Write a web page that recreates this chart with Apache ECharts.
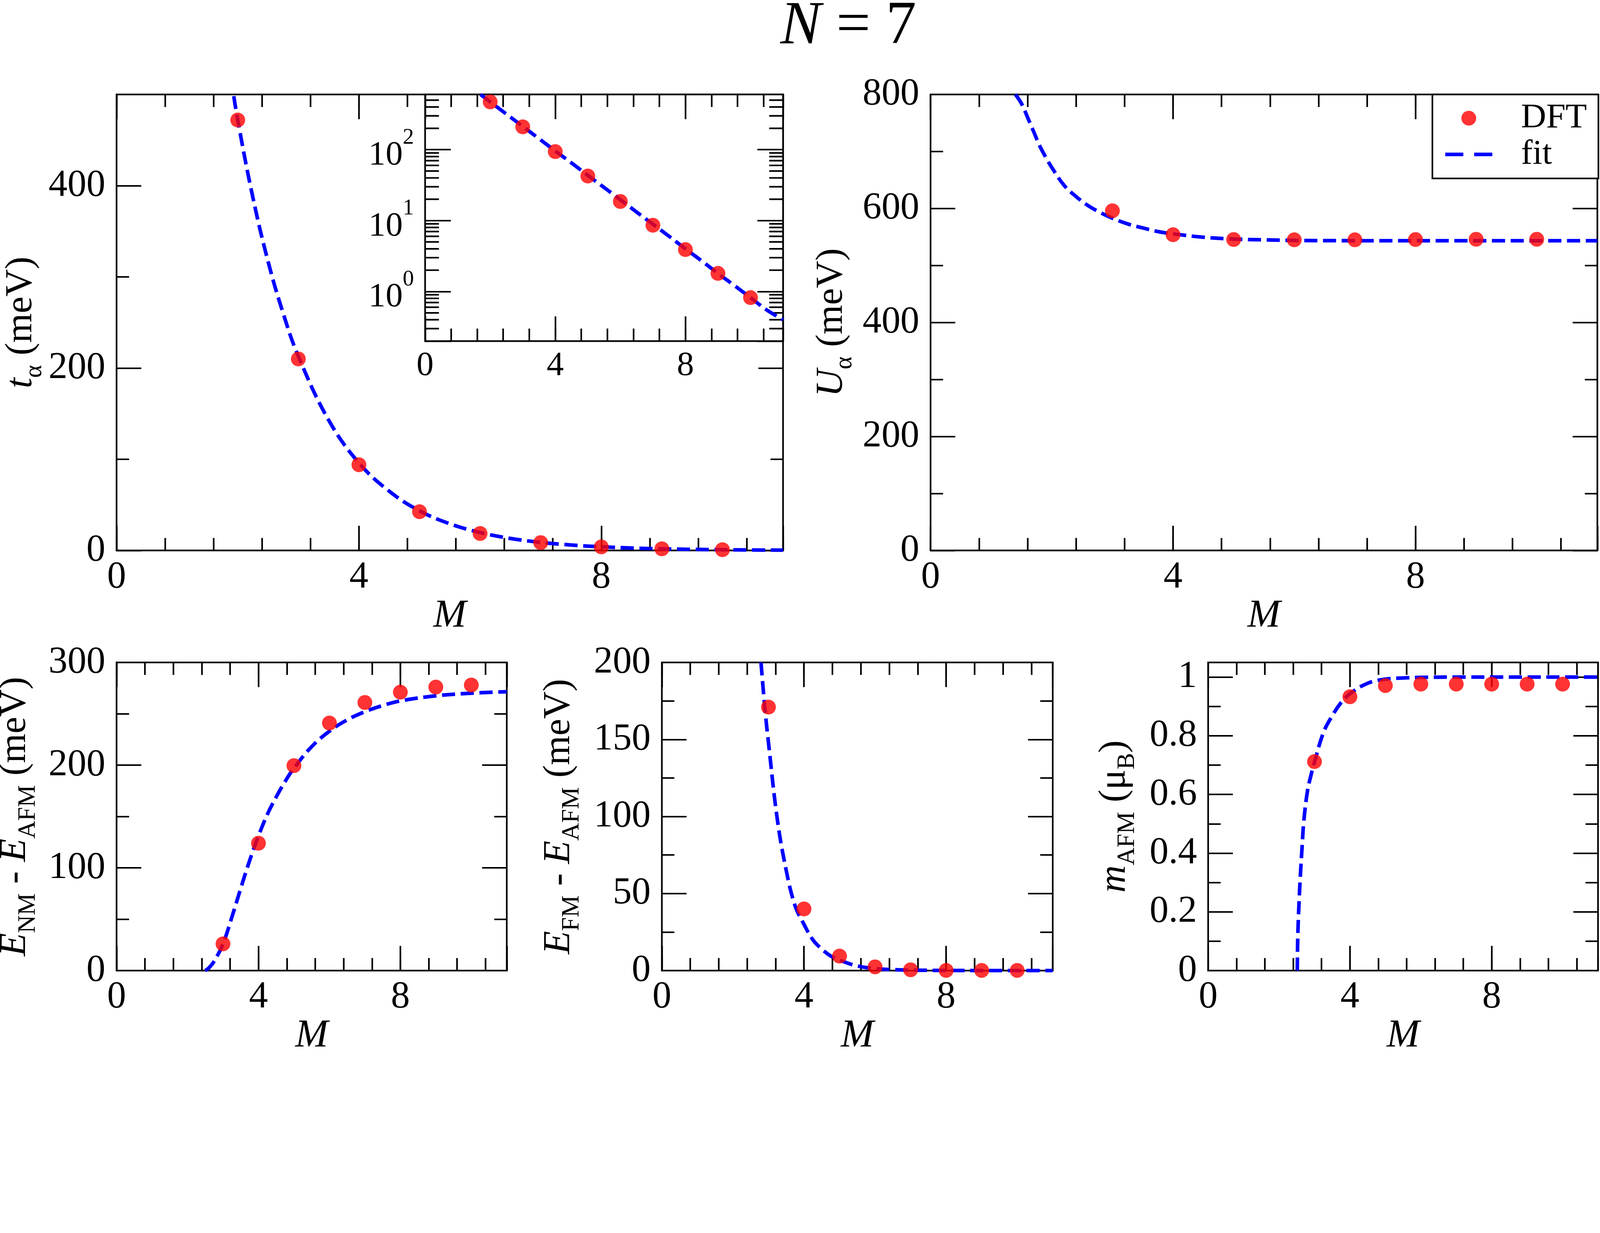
<!DOCTYPE html>
<html>
<head>
<meta charset="utf-8">
<script src="https://cdn.jsdelivr.net/npm/echarts@6.0.0/dist/echarts.min.js"></script>
<style>html,body{margin:0;padding:0;background:#fff;overflow:hidden}#c{width:100vw;height:100vh}</style>
</head>
<body>
<div id="c"></div>
<script>
// ---------- data ----------
const M_DFT = [2, 3, 4, 5, 6, 7, 8, 9, 10];
const t_DFT = [472, 210, 94, 42.5, 18.6, 8.6, 3.9, 1.8, 0.82];
const t_fitM = [1.7, 1.8, 1.9, 2, 2.25, 2.5, 2.75, 3, 3.5, 4, 4.5, 5, 5.5, 6, 6.5, 7, 7.5, 8, 8.5, 9, 9.5, 10, 10.5, 11];
const t_fitV = [600, 555, 513, 472, 387, 317, 260, 213, 143, 96, 65, 43.5, 29.3, 19.7, 13.2, 8.9, 6.0, 4.0, 2.7, 1.8, 1.22, 0.82, 0.55, 0.4];

const M_DFT2 = [3, 4, 5, 6, 7, 8, 9, 10];
const U_DFT = [596, 554, 545.5, 545, 545, 545.5, 546, 546];
const U_fitM = [1.4, 1.5, 1.6, 1.7, 1.8, 1.9, 2.0, 2.2, 2.4, 2.6, 2.8, 3.0, 3.25, 3.5, 3.75, 4.0, 4.5, 5.0, 5.5, 6, 7, 8, 9, 10, 11];
const U_fitV = [800, 784, 760, 735, 710, 690, 672, 641, 621, 605, 593, 583, 573, 566, 559.5, 555.5, 549.6, 546.4, 545, 544, 543.5, 543.5, 543.5, 543.5, 543.5];

const ENM_DFT = [26, 124, 199.5, 241, 261, 271, 276, 278];
const ENM_fitM = [2.5, 2.6, 2.75, 3, 3.25, 3.5, 3.75, 4, 4.25, 4.5, 4.75, 5, 5.5, 6, 6.5, 7, 7.5, 8, 9, 10, 11];
const ENM_fitV = [0, 2.5, 9, 26, 52, 80, 107, 131, 152, 169, 184, 197, 218, 233, 244, 252, 258, 262.5, 267.5, 270, 271.5];

const EFM_DFT = [171, 40, 9.4, 2.4, 0.5, 0.1, 0.1, 0.1];
const EFM_fitM = [2.79, 2.9, 3, 3.25, 3.5, 3.75, 4, 4.25, 4.5, 4.75, 5, 5.5, 6, 6.5, 7, 8, 9, 10, 11];
const EFM_fitV = [200, 170, 148, 98, 65, 42, 30, 20, 14, 9.5, 6.8, 3, 1.3, 0.6, 0.3, 0.06, 0.01, 0, 0];

const m_DFT = [0.712, 0.933, 0.971, 0.976, 0.976, 0.976, 0.976, 0.976];
const m_fitM = [2.514, 2.53, 2.56, 2.6, 2.65, 2.7, 2.8, 2.9, 3.0, 3.25, 3.5, 3.75, 4.0, 4.5, 5, 5.5, 6, 7, 8, 9, 10, 11];
const m_fitV = [0, 0.12, 0.22, 0.32, 0.42, 0.51, 0.61, 0.665, 0.71, 0.81, 0.868, 0.913, 0.943, 0.979, 0.993, 0.997, 0.999, 1, 1, 1, 1, 1];

// minor tick values of the logarithmic inset axis
const logMinorTicks = [0.3, 0.4, 0.5, 0.6, 0.7, 0.8, 0.9, 2, 3, 4, 5, 6, 7, 8, 9, 20, 30, 40, 50, 60, 70, 80, 90, 200, 300, 400, 500];

// ---------- layout scale (design is in 4859 x 3157 px) ----------
const el = document.getElementById('c');
const W = el.clientWidth || window.innerWidth;
const s = W / 4859;
const S = (v) => v * s;

// ---------- styling ----------
const FONT = 'Liberation Serif';
const BLACK = '#000';
const tickStyle = { color: BLACK, width: S(5) };
const MAJ = S(75), MIN = S(38);

const zip = (a, b) => a.map((v, i) => [v, b[i]]);
const fmtMult = (step) => (v) => {
  const r = v / step;
  return Math.abs(r - Math.round(r)) < 1e-6 ? String(+(+v).toFixed(6)) : '';
};

const grids = [];
const xAxes = [];
const yAxes = [];

function rectS(r) {
  return { left: S(r.left), top: S(r.top), width: S(r.width), height: S(r.height) };
}

function addGrid(rect, opts) {
  grids.push(Object.assign({
    show: true, borderColor: BLACK, borderWidth: S(5),
    backgroundColor: opts.bg || 'transparent', z: opts.z || 0,
    containLabel: false, outerBoundsMode: 'none'
  }, rectS(rect)));
  return grids.length - 1;
}

// one dimension: major axis with labels + minor axis + mirrored pair on the opposite side
function addAxes(dim, gi, c, z) {
  const list = dim === 'x' ? xAxes : yAxes;
  const pos = dim === 'x' ? ['bottom', 'top'] : ['left', 'right'];
  const base = () => ({
    type: 'value', gridIndex: gi, min: c.min, max: c.max, z: z,
    splitLine: { show: false }, axisLine: { show: false, onZero: false },
    axisPointer: { show: false }
  });
  const mainIdx = list.length;
  const ls = S(c.labelSize || 115);
  const main = Object.assign(base(), {
    position: pos[0], interval: c.major,
    axisTick: { show: true, inside: true, length: MAJ, lineStyle: tickStyle },
    axisLabel: {
      show: true, formatter: fmtMult(c.major), fontFamily: FONT, fontSize: ls,
      lineHeight: ls, color: BLACK, margin: S(c.margin)
    }
  });
  if (c.name) {
    main.name = c.name;
    main.nameLocation = 'middle';
    main.nameGap = S(c.nameGap);
    main.nameTextStyle = c.nameStyle;
  }
  list.push(main);
  list.push(Object.assign(base(), {
    position: pos[0], interval: c.minor,
    axisTick: { show: true, inside: true, length: MIN, lineStyle: tickStyle },
    axisLabel: { show: false }
  }));
  list.push(Object.assign(base(), {
    position: pos[1], interval: c.major,
    axisTick: { show: true, inside: true, length: MAJ, lineStyle: tickStyle },
    axisLabel: { show: false }
  }));
  list.push(Object.assign(base(), {
    position: pos[1], interval: c.minor,
    axisTick: { show: true, inside: true, length: MIN, lineStyle: tickStyle },
    axisLabel: { show: false }
  }));
  return mainIdx;
}

const xNameStyle = { fontFamily: FONT, fontStyle: 'italic', fontSize: S(120), lineHeight: S(120), color: BLACK };
const yNameStyle = {
  fontFamily: FONT, fontSize: S(115), lineHeight: S(154), color: BLACK,
  rich: {
    i: { fontFamily: FONT, fontStyle: 'italic', fontSize: S(115), lineHeight: S(154), color: BLACK },
    s: { fontFamily: FONT, fontSize: S(75), lineHeight: S(60), verticalAlign: 'bottom', color: BLACK }
  }
};

const xCfg = () => ({ min: 0, max: 11, major: 4, minor: 0.8, margin: 24, name: 'M', nameGap: 77, nameStyle: xNameStyle });

const fitLine = { color: '#0000ff', width: S(11), type: [S(40), S(17)] };
const series = [];
function addPanel(rect, yc, dft, fit) {
  const gi = addGrid(rect, {});
  const xi = addAxes('x', gi, xCfg(), 0);
  const yi = addAxes('y', gi, Object.assign({ margin: 34, nameStyle: yNameStyle }, yc), 0);
  series.push({
    name: 'fit', type: 'line', xAxisIndex: xi, yAxisIndex: yi, data: fit,
    showSymbol: false, symbol: 'none', smooth: 0.4, z: 2,
    lineStyle: fitLine, itemStyle: { color: '#0000ff' }
  });
  series.push({
    name: 'DFT', type: 'scatter', xAxisIndex: xi, yAxisIndex: yi, data: dft,
    symbol: 'circle', symbolSize: S(45), itemStyle: { color: '#ff0000' }, z: 3
  });
}

// --- panel 1 (t_alpha) ---
addPanel({ left: 354, top: 287, width: 2024, height: 1385 },
  { min: 0, max: 500, major: 200, minor: 100, name: '{i|t}{s|α} (meV)', nameGap: 212 },
  zip(M_DFT, t_DFT), zip(t_fitM, t_fitV));

// --- inset (log scale) ---
const gInset = addGrid({ left: 1291, top: 287, width: 1087, height: 749 }, { bg: '#fff', z: 3 });
const xInset = addAxes('x', gInset, { min: 0, max: 11, major: 4, minor: 0.8, margin: 23, labelSize: 104 }, 4);
const logLabel = (v) => {
  const e = Math.log10(v);
  return Math.abs(e - Math.round(e)) < 1e-6 ? '{b|10}{p|' + Math.round(e) + '}' : '';
};
const yInsetBase = {
  type: 'log', logBase: 10, gridIndex: gInset, min: 0.2, max: 600, z: 4,
  splitLine: { show: false }, axisLine: { show: false, onZero: false }, minorTick: { show: false },
  axisTick: { show: true, inside: true, length: S(78), lineStyle: tickStyle }
};
const yInset = yAxes.length;
yAxes.push(Object.assign({}, yInsetBase, {
  position: 'left',
  axisLabel: {
    show: true, formatter: logLabel, margin: S(34), color: BLACK,
    rich: {
      b: { fontFamily: FONT, fontSize: S(104), lineHeight: S(140), verticalAlign: 'bottom', color: BLACK },
      p: { fontFamily: FONT, fontSize: S(68), lineHeight: S(140), verticalAlign: 'top', color: BLACK }
    }
  }
}));
yAxes.push(Object.assign({}, yInsetBase, { position: 'right', axisLabel: { show: false } }));
series.push({
  name: 'fit', type: 'line', xAxisIndex: xInset, yAxisIndex: yInset, data: zip(t_fitM, t_fitV),
  showSymbol: false, symbol: 'none', smooth: 0.4, z: 5, lineStyle: fitLine
});
series.push({
  name: 'DFT', type: 'scatter', xAxisIndex: xInset, yAxisIndex: yInset, data: zip(M_DFT, t_DFT),
  symbolSize: S(45), itemStyle: { color: '#ff0000' }, z: 6
});
series.push({
  name: 'logMinor', type: 'custom', xAxisIndex: xInset, yAxisIndex: yInset, z: 5, silent: true,
  data: logMinorTicks.map(v => [0, v]),
  renderItem: (params, api) => {
    const y = api.coord([0, api.value(1)])[1];
    const cs = params.coordSys;
    const st = { stroke: BLACK, lineWidth: S(5) };
    const L = S(42);
    return {
      type: 'group', children: [
        { type: 'line', shape: { x1: cs.x, y1: y, x2: cs.x + L, y2: y }, style: st },
        { type: 'line', shape: { x1: cs.x + cs.width - L, y1: y, x2: cs.x + cs.width, y2: y }, style: st }
      ]
    };
  }
});

// --- panel 2 (U_alpha) ---
addPanel({ left: 2826, top: 287, width: 2025, height: 1385 },
  { min: 0, max: 800, major: 200, minor: 100, name: '{i|U}{s|α} (meV)', nameGap: 223 },
  zip(M_DFT2, U_DFT), zip(U_fitM, U_fitV));

// --- panel 3 (E_NM - E_AFM) ---
addPanel({ left: 354, top: 2012, width: 1185, height: 936 },
  { min: 0, max: 300, major: 100, minor: 50, name: '{i|E}{s|NM} - {i|E}{s|AFM} (meV)', nameGap: 231 },
  zip(M_DFT2, ENM_DFT), zip(ENM_fitM, ENM_fitV));

// --- panel 4 (E_FM - E_AFM) ---
addPanel({ left: 2010, top: 2012, width: 1187, height: 936 },
  { min: 0, max: 200, major: 50, minor: 25, name: '{i|E}{s|FM} - {i|E}{s|AFM} (meV)', nameGap: 235 },
  zip(M_DFT2, EFM_DFT), zip(EFM_fitM, EFM_fitV));

// --- panel 5 (m_AFM) ---
addPanel({ left: 3669, top: 2012, width: 1184, height: 936 },
  { min: 0, max: 1.05, major: 0.2, minor: 0.1, name: '{i|m}{s|AFM} (μ{s|B})', nameGap: 207 },
  zip(M_DFT2, m_DFT), zip(m_fitM, m_fitV));

// legend icon for the dashed fit line: two dashes inside a 143 x 45 box
const dashIcon = 'path://M0,0h0.01v0.01h-0.01z M0,17h55v11h-55z M88,17h55v11h-55z M142.99,44.99h0.01v0.01h-0.01z';

const chart = echarts.init(el, null, { renderer: 'canvas' });
chart.setOption({
  backgroundColor: '#fff',
  animation: false,
  title: {
    text: '{i|N} = 7', left: S(2370), top: S(-10), padding: 0,
    textStyle: {
      fontFamily: FONT, fontSize: S(185), lineHeight: S(185), fontWeight: 'normal', color: BLACK,
      rich: { i: { fontFamily: FONT, fontStyle: 'italic', fontSize: S(185), lineHeight: S(185), color: BLACK } }
    }
  },
  legend: {
    data: [{ name: 'DFT', icon: 'circle' }, { name: 'fit', icon: dashIcon }],
    orient: 'vertical', left: S(4350), top: S(287),
    padding: [S(17), S(35), S(18), S(39)], itemGap: 0, itemWidth: S(143), itemHeight: S(45),
    backgroundColor: '#fff', borderColor: BLACK, borderWidth: S(5), borderRadius: 0,
    selectedMode: false, z: 10,
    textStyle: { fontFamily: FONT, fontSize: S(106), lineHeight: S(110), color: BLACK, padding: [0, 0, 0, S(81)] }
  },
  grid: grids,
  xAxis: xAxes,
  yAxis: yAxes,
  series: series
});
</script>
</body>
</html>
